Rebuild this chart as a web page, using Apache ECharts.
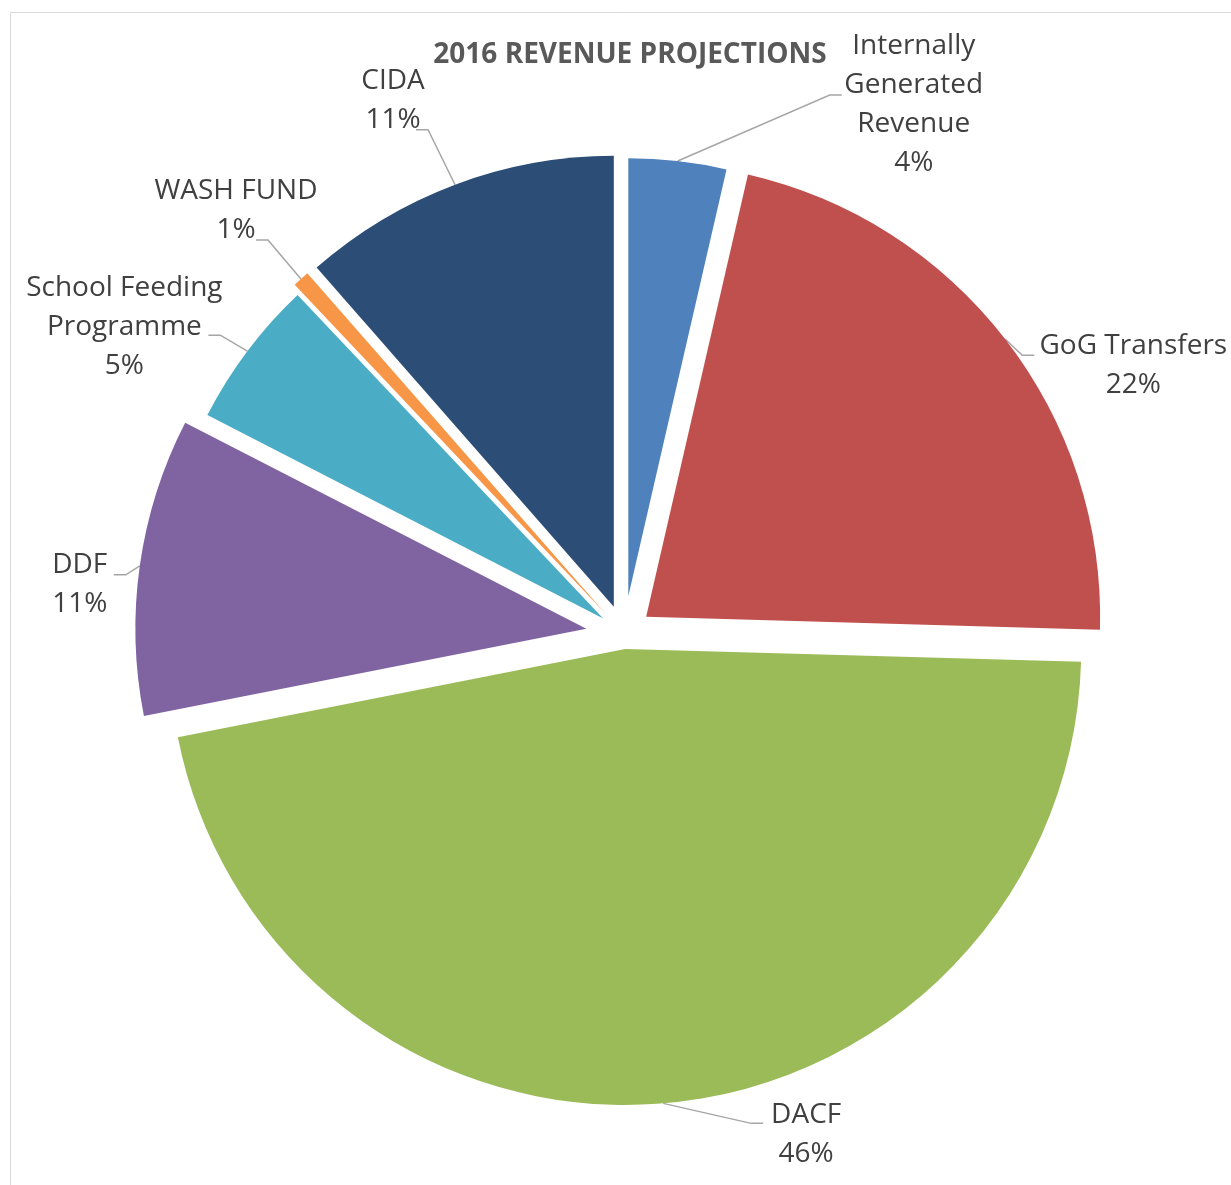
<!DOCTYPE html>
<html><head><meta charset="utf-8">
<script src="https://cdn.jsdelivr.net/npm/echarts@6/dist/echarts.min.js"></script>
<style>html,body{margin:0;padding:0;background:#fff}#c{width:1231px;height:1185px}</style>
</head><body><div id="c"></div>
<script>
// ---- data ----
const categories = ['Internally\nGenerated\nRevenue', 'GoG Transfers', 'DACF', 'DDF', 'School Feeding\nProgramme', 'WASH FUND', 'CIDA'];
const values = [3.6, 21.85, 46.45, 10.65, 5.4, 0.6, 11.45];
const titleText = '2016 REVENUE PROJECTIONS';

// ---- style / layout ----
const colors = ['#4F81BD', '#C0504D', '#9BBB59', '#8064A2', '#4BACC6', '#F79646', '#2C4D75'];
const CX = 624, CY = 634;
const sliceRadius = [438, 454, 456, 451, 445, 452, 451];
const sliceExplode = [38, 28, 15, 38, 26, 28, 29];
// label centre and leader end, relative to the leader start on the slice edge
const labelOffset = [[236, -57], [128, 26], [143, 31], [-60, 19], [-123, -24], [-65, -68], [-62, -84]];
const lineEndOffset = [[164, -66], [29, 16], [100, 20], [-26, 9], [-39, -16], [-45, -39], [-39, -55]];

const total = values.reduce((a, b) => a + b, 0);
let cum = 0;
const series = values.map((v, i) => {
  const mid = (cum + v / 2) / total * 2 * Math.PI;
  cum += v;
  const d = sliceExplode[i];
  return {
    type: 'pie',
    center: [CX + d * Math.sin(mid), CY - d * Math.cos(mid)],
    radius: sliceRadius[i],
    startAngle: 90,
    clockwise: true,
    silent: true,
    animation: false,
    avoidLabelOverlap: false,
    emphasis: { disabled: true },
    itemStyle: { borderWidth: 0 },
    data: values.map((vv, j) => ({
      name: categories[j],
      value: vv,
      itemStyle: { color: j === i ? colors[j] : 'rgba(0,0,0,0)', borderWidth: 0 },
      label: { show: j === i },
      labelLine: { show: j === i }
    })),
    label: {
      position: 'outside',
      formatter: p => p.name + '\n' + Math.round(p.percent) + '%',
      fontFamily: 'Open Sans',
      fontSize: 28,
      lineHeight: 39,
      color: '#404040'
    },
    labelLine: { length: 0, length2: 0, lineStyle: { color: '#a6a6a6', width: 1.5 } },
    labelLayout: function (p) {
      const k = p.dataIndex;
      const s = p.labelLinePoints ? p.labelLinePoints[0] : [p.labelRect.x, p.labelRect.y];
      const lo = labelOffset[k], eo = lineEndOffset[k];
      const side = lo[0] >= 0 ? 1 : -1;
      const e = [s[0] + eo[0], s[1] + eo[1]];
      const b = [e[0] - side * 12, e[1]];
      return {
        x: s[0] + lo[0], y: s[1] + lo[1],
        align: 'center', verticalAlign: 'middle',
        labelLinePoints: [[s[0], s[1]], b, e]
      };
    }
  };
});

const chart = echarts.init(document.getElementById('c'), null, { renderer: 'canvas' });
chart.setOption({
  animation: false,
  backgroundColor: '#fff',
  title: {
    text: titleText, left: 625, top: 36, textAlign: 'center',
    textStyle: { fontFamily: 'Open Sans', fontWeight: 'bold', fontSize: 28, color: '#595959' }
  },
  graphic: [{
    type: 'rect', silent: true, z: -10,
    shape: { x: 10.5, y: 12.5, width: 1400, height: 1400 },
    style: { fill: 'none', stroke: '#d9d9d9', lineWidth: 1 }
  }],
  series: series
});
</script></body></html>
